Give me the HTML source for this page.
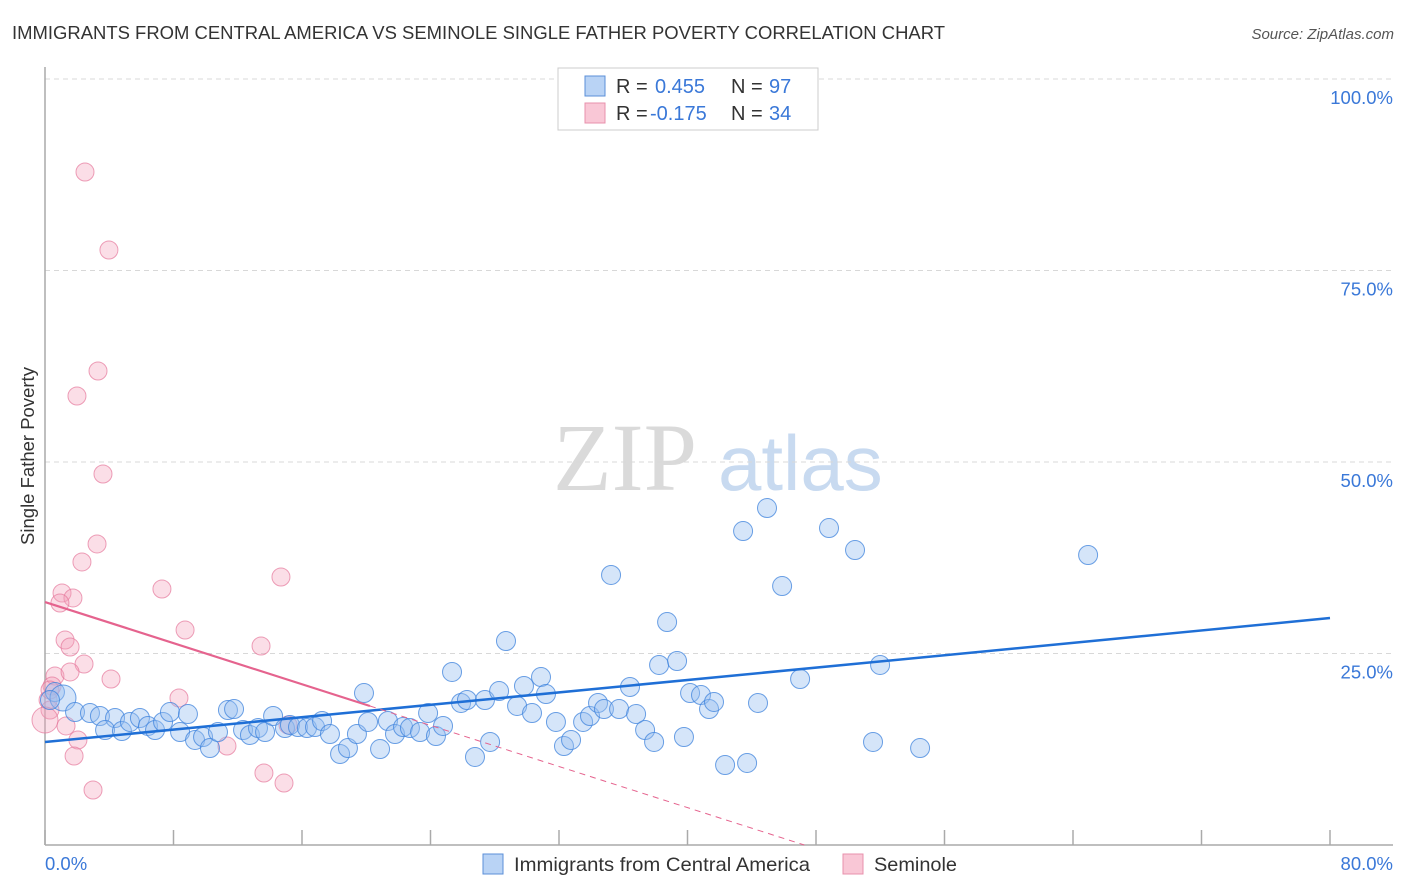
<!DOCTYPE html>
<html><head><meta charset="utf-8">
<style>
body{margin:0;background:#fff;font-family:"Liberation Sans",sans-serif;}
svg{display:block}
</style></head>
<body>
<svg id="chart" width="1406" height="892">
</svg>
<script>
const blueX=[0.62,1.12,0.31,1.87,2.80,3.42,4.36,3.74,4.79,5.29,5.91,6.41,6.85,7.35,7.78,8.41,8.90,9.34,9.84,10.27,10.77,11.39,11.77,12.33,12.76,13.26,13.70,14.20,14.94,15.25,15.75,16.31,16.81,17.25,17.74,18.37,18.86,19.42,19.86,20.11,20.86,21.35,21.79,22.29,22.72,23.35,23.85,24.34,24.78,25.34,25.90,26.27,26.77,27.39,27.71,28.27,28.70,29.39,29.82,30.32,30.88,31.19,31.81,32.31,32.75,33.50,33.93,34.43,34.80,35.24,35.74,36.42,36.80,37.36,37.92,38.23,38.73,39.35,39.78,40.16,40.84,41.34,41.65,42.34,43.46,43.71,44.39,44.95,45.89,47.01,48.81,50.43,51.55,51.99,54.48,64.94];
const blueY=[19.97,19.19,18.93,17.36,17.23,16.84,16.58,15.01,14.88,16.06,16.58,15.54,15.01,16.06,17.36,14.75,17.10,13.71,14.10,12.66,14.75,17.62,17.75,15.01,14.36,15.27,14.75,16.84,15.27,15.67,15.40,15.27,15.40,16.19,14.49,11.88,12.66,14.49,19.84,16.06,12.53,16.19,14.49,15.40,15.27,14.75,17.23,14.23,15.54,22.59,18.54,18.93,11.49,18.93,13.45,20.10,26.63,18.15,20.76,17.23,21.93,19.71,16.06,12.92,13.71,16.06,16.84,18.54,17.75,35.25,17.75,20.63,17.10,15.01,13.45,23.50,29.11,24.02,14.10,19.84,19.58,17.75,18.67,10.44,40.99,10.71,18.54,43.99,33.81,21.67,41.38,38.51,13.45,23.50,12.66,37.86];
const pinkX=[2.49,3.98,3.30,1.99,3.61,3.24,2.30,1.06,1.74,0.93,7.28,14.69,8.72,1.25,1.56,13.45,0.62,2.43,1.56,0.44,4.11,8.34,0.19,0.31,0.0,1.31,2.05,1.81,11.33,13.63,14.88,2.99,15.13,0.31];
const pinkY=[87.86,77.68,61.88,58.62,48.43,39.30,36.95,32.90,32.25,31.59,33.42,34.99,28.07,26.76,25.85,25.98,22.06,23.63,22.59,20.76,21.67,19.19,18.93,17.62,16.32,15.54,13.71,11.62,12.92,9.40,8.09,7.18,15.67,20.24];
const blueTrend=[13.45,29.63]; // y at x=0 and x=80
const pinkTrend=[31.72,-0.671]; // intercept, slope
const pinkSolidEnd=20.23;
const yTicks=[25,50,75,100];
const yTickLabels=["25.0%","50.0%","75.0%","100.0%"];

const NS="http://www.w3.org/2000/svg";
const svg=document.getElementById('chart');
const X0=45,X1=1330,Y0=845,Y100=79;
const sx=v=>X0+(v/80)*(X1-X0);
const sy=v=>Y0-(v/100)*(Y0-Y100);
function el(tag,attrs,parent){const e=document.createElementNS(NS,tag);for(const k in attrs)e.setAttribute(k,attrs[k]);(parent||svg).appendChild(e);return e;}

// title
let t=el('text',{x:12,y:39,'font-size':18,fill:'#333',textLength:933,lengthAdjust:'spacingAndGlyphs'});t.textContent='IMMIGRANTS FROM CENTRAL AMERICA VS SEMINOLE SINGLE FATHER POVERTY CORRELATION CHART';


t=el('text',{x:1394,y:39,'font-size':15,fill:'#555','font-style':'italic','text-anchor':'end'});t.textContent='Source: ZipAtlas.com';



// watermark
t=el('text',{x:553,y:490,'font-size':96,fill:'#dadada','font-family':'Liberation Serif, serif'});t.textContent='ZIP';


t=el('text',{x:718,y:490,'font-size':78,fill:'#c8daf0'});t.textContent='atlas';



// grid + y labels
yTicks.forEach((v,i)=>{
  const g=el('line',{x1:X0,x2:1393,y1:sy(v),y2:sy(v),stroke:'#d8d8d8','stroke-dasharray':'5,4','stroke-width':1});
  
  
  const l=el('text',{x:1393,y:sy(v)+25,'font-size':18.5,fill:'#3a78d8','text-anchor':'end'});l.textContent=yTickLabels[i];
  
  
});
// axes
let a=el('line',{x1:X0,x2:X0,y1:67,y2:Y0,stroke:'#aaa','stroke-width':1.5});


a=el('line',{x1:X0,x2:1393,y1:Y0,y2:Y0,stroke:'#aaa','stroke-width':1.5});


for(let i=0;i<=10;i++){const k=el('line',{x1:sx(i*8),x2:sx(i*8),y1:Y0,y2:830,stroke:'#aaa','stroke-width':1.5});

}
t=el('text',{x:45,y:870,'font-size':18.5,fill:'#3a78d8'});t.textContent='0.0%';


t=el('text',{x:1393,y:870,'font-size':18.5,fill:'#3a78d8','text-anchor':'end'});t.textContent='80.0%';


t=el('text',{x:34,y:456,'font-size':18.5,fill:'#333','text-anchor':'middle',transform:'rotate(-90 34 456)'});t.textContent='Single Father Poverty';



// points
pinkX.forEach((x,i)=>{const c=el('circle',{cx:sx(x),cy:sy(pinkY[i]),r:i==24?13:9,fill:'rgba(244,160,185,0.35)',stroke:'rgba(230,120,155,0.7)','stroke-width':1});

});
blueX.forEach((x,i)=>{const c=el('circle',{cx:sx(x),cy:sy(blueY[i]),r:i==1?13:9.5,fill:'rgba(150,190,240,0.4)',stroke:'rgba(60,130,220,0.75)','stroke-width':1});

});

// trend lines
let ln=el('line',{x1:sx(0),y1:sy(blueTrend[0]),x2:sx(80),y2:sy(blueTrend[1]),stroke:'#1f6fd6','stroke-width':2.5});


ln=el('line',{x1:sx(0),y1:sy(pinkTrend[0]),x2:sx(pinkSolidEnd),y2:sy(pinkTrend[0]+pinkTrend[1]*pinkSolidEnd),stroke:'#e5638e','stroke-width':2.2});


const xz=-pinkTrend[0]/pinkTrend[1];
ln=el('line',{x1:sx(pinkSolidEnd),y1:sy(pinkTrend[0]+pinkTrend[1]*pinkSolidEnd),x2:sx(xz),y2:sy(0),stroke:'#e5638e','stroke-width':1,'stroke-dasharray':'6,5'});



// top legend
let r=el('rect',{x:558,y:68,width:260,height:62,fill:'#fff',stroke:'#ccc'});


[[0,'#b9d3f5','#5b8fd8','0.455','97',655],[1,'#f9c7d6','#e891ac','-0.175','34',650]].forEach(d=>{
  const y=86+d[0]*27;
  const s=el('rect',{x:585,y:y-10,width:20,height:20,fill:d[1],stroke:d[2]});
  
  
  const parts=[[616,'R =','#333'],[d[5],d[3],'#3a78d8'],[731,'N =','#333'],[769,d[4],'#3a78d8']];
  parts.forEach(p=>{
    const tx=el('text',{x:p[0],y:y+7,'font-size':20,fill:p[2]});tx.textContent=p[1];
    
    
  });
});

// bottom legend
[[483,'#b9d3f5','#5b8fd8','Immigrants from Central America',296],[843,'#f9c7d6','#e891ac','Seminole',83]].forEach(d=>{
  const s=el('rect',{x:d[0],y:854,width:20,height:20,fill:d[1],stroke:d[2]});
  
  
  const tx=el('text',{x:d[0]+31,y:871,'font-size':19.5,fill:'#333',textLength:d[4],lengthAdjust:'spacingAndGlyphs'});tx.textContent=d[3];
  
  
});
</script>
</body></html>
